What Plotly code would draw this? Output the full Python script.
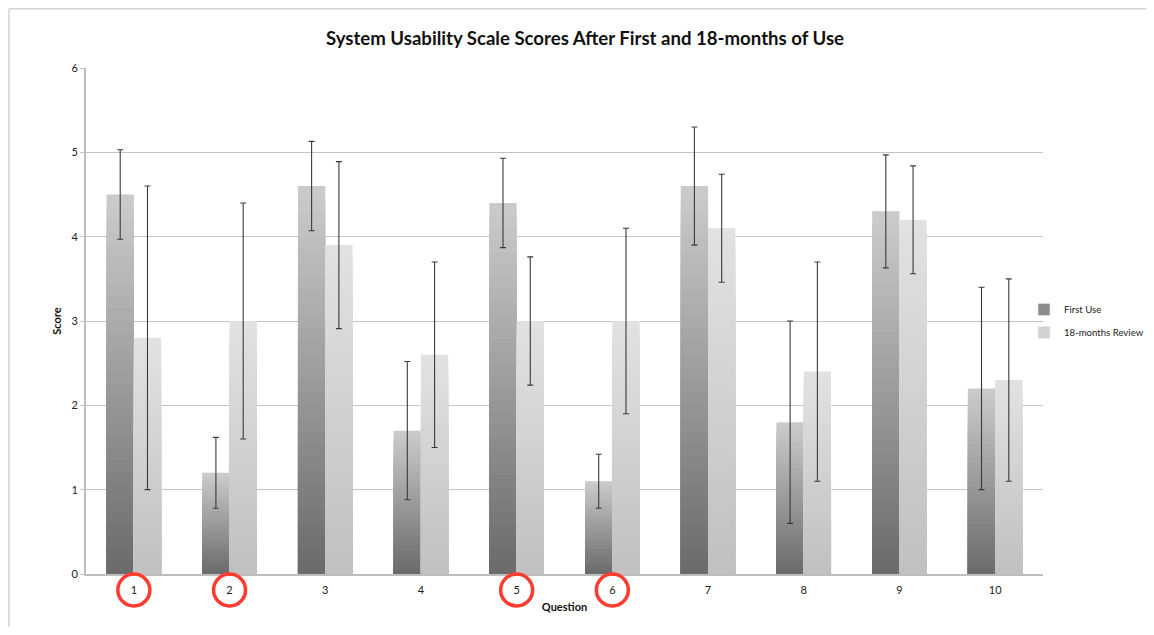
import plotly.graph_objects as go

# ---- data ----
questions = [1, 2, 3, 4, 5, 6, 7, 8, 9, 10]
question_labels = ["1", "2", "3", "4", "5", "6", "7", "8", "9", "10"]
first_use = [4.5, 1.2, 4.6, 1.7, 4.4, 1.1, 4.6, 1.8, 4.3, 2.2]
first_use_err = [0.53, 0.42, 0.53, 0.82, 0.53, 0.32, 0.70, 1.20, 0.67, 1.20]
review = [2.8, 3.0, 3.9, 2.6, 3.0, 3.0, 4.1, 2.4, 4.2, 2.3]
review_err = [1.80, 1.40, 0.99, 1.10, 0.76, 1.10, 0.64, 1.30, 0.64, 1.20]
circled = [1, 2, 5, 6]
y_ticks = [0, 1, 2, 3, 4, 5, 6]

series = [
    dict(name="First Use", vals=first_use, err=first_use_err, offset=-0.285,
         bottom=(106, 106, 106), top=(204, 204, 204), legend=(140, 140, 140)),
    dict(name="18-months Review", vals=review, err=review_err, offset=0.0,
         bottom=(192, 192, 192), top=(226, 226, 226), legend=(210, 210, 210)),
]
BAR_W = 0.285
N = 30

# page body adds an 8px margin on every side; size the figure so nothing overflows
# and so the plot area lands at 86..1043 x 68..574 in the window
PAGE_OFF = 8
W, H = 1154 - 2 * PAGE_OFF, 635 - 2 * PAGE_OFF
PL, PT, PW, PH = 86, 68, 957, 506
ML, MT = PL - PAGE_OFF, PT - PAGE_OFF

fig = go.Figure()


def mix(c0, c1, t):
    return "rgb({},{},{})".format(*[round(a + (b - a) * t) for a, b in zip(c0, c1)])


for s in series:
    # gradient: draw full-height bar first, then progressively shorter, darker bars on top
    for k in range(N):
        frac = (N - k) / N
        fig.add_trace(go.Bar(
            x=questions, y=[v * frac for v in s["vals"]],
            offset=s["offset"], width=BAR_W,
            marker=dict(color=mix(s["bottom"], s["top"], frac - 0.5 / N), line=dict(width=0)),
            showlegend=False, hoverinfo="skip",
        ))

# error bars on transparent full-height bars (drawn last, on top)
for s in series:
    fig.add_trace(go.Bar(
        x=questions, y=s["vals"], offset=s["offset"], width=BAR_W,
        marker=dict(color="rgba(0,0,0,0)", line=dict(width=0)),
        error_y=dict(type="data", array=s["err"], visible=True,
                     color="#3a3a3a", thickness=1.1, width=3),
        showlegend=False,
    ))

# legend entries
for s in series:
    fig.add_trace(go.Bar(
        x=[None], y=[None], name=s["name"], legendgroup=s["name"],
        marker=dict(color=mix(s["legend"], s["legend"], 0)),
    ))

x_min, x_max = 0.5, 10.5
shapes = []
for q in circled:
    cx = (q - x_min) / (x_max - x_min)
    rx = 16 / PW
    cy = -16 / PH
    ry = 16 / PH
    shapes.append(dict(type="circle", xref="paper", yref="paper",
                       x0=cx - rx, x1=cx + rx, y0=cy - ry, y1=cy + ry,
                       line=dict(color="#ff3b2f", width=3.5)))
# outer frame (partially visible): left edge and top edge
fx0 = (1 - ML) / PW
fy1 = (PH + MT - 0.75) / PH
fig_right = (W - ML) / PW
fig_bottom = -(H - MT - PH) / PH
shapes.append(dict(type="line", xref="paper", yref="paper",
                   x0=fx0, x1=fig_right, y0=fy1, y1=fy1,
                   line=dict(color="#d4d4d4", width=1.5), layer="below"))
shapes.append(dict(type="line", xref="paper", yref="paper",
                   x0=fx0, x1=fx0, y0=fig_bottom, y1=fy1,
                   line=dict(color="#d4d4d4", width=1.5), layer="below"))

fig.update_layout(
    width=W, height=H,
    margin=dict(l=ML, r=W - ML - PW, t=MT, b=H - MT - PH, autoexpand=False),
    paper_bgcolor="white", plot_bgcolor="white",
    barmode="overlay",
    font=dict(family="Lato, Open Sans, sans-serif", color="#222222", size=11),
    title=dict(text="<b>System Usability Scale Scores After First and 18-months of Use</b>",
               x=(585 - PAGE_OFF) / W, xanchor="center",
               y=1 - (38 - PAGE_OFF) / H, yanchor="middle",
               font=dict(family="Lato, Open Sans, sans-serif", size=18.6, color="#111111")),
    xaxis=dict(range=[x_min, x_max], tickmode="array", tickvals=questions,
               ticktext=question_labels, showgrid=False, zeroline=False,
               showline=True, linecolor="#bdbdbd", linewidth=2, ticks="",
               ticklen=0, ticklabelstandoff=5, tickfont=dict(size=11, color="#222222"),
               title=dict(text="<b>Question</b>", standoff=8,
                          font=dict(size=11, color="#111111"))),
    yaxis=dict(range=[0, 6], tickmode="array", tickvals=y_ticks,
               showgrid=True, gridcolor="#c4c4c4", gridwidth=1.2, zeroline=False,
               showline=True, linecolor="#bdbdbd", linewidth=2,
               ticks="outside", ticklen=4, tickcolor="#c4c4c4",
               tickfont=dict(size=11, color="#222222"),
               title=dict(text="<b>Score</b>", standoff=8,
                          font=dict(size=11, color="#111111"))),
    legend=dict(x=(1024 - PL) / PW, xanchor="left", y=0.5, yanchor="middle",
                font=dict(size=9.6, color="#222222"), tracegroupgap=4,
                bgcolor="rgba(0,0,0,0)", itemwidth=30),
    shapes=shapes,
)

fig.write_html("out.html")
